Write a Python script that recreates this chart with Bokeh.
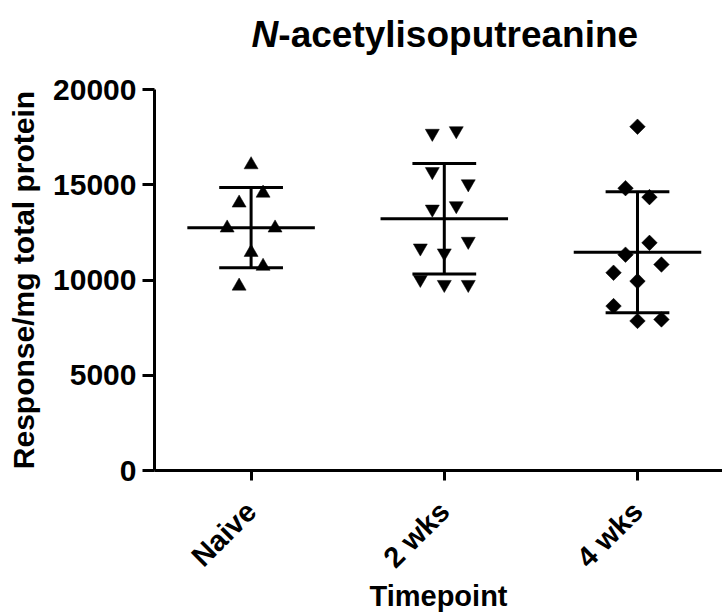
import math
import numpy as np
from bokeh.plotting import figure
from bokeh.layouts import column
from bokeh.models import Range1d, FixedTicker, ColumnDataSource
from bokeh.core.properties import value
from bokeh.embed import file_html
from bokeh.resources import INLINE

# ---- data ----
title_italic = "N"
title_rest = "-acetylisoputreanine"
categories = ["Naive", "2 wks", "4 wks"]
category_pos = [1, 2, 3]
y_ticks = [0, 5000, 10000, 15000, 20000]

naive_values = [16050, 14560, 14040, 12730, 12730, 11450, 10720, 9680]
naive_cols = [0, 1, -1, -2, 2, 0, 1, -1]

wk2_values = [17700, 17835, 15690, 15050, 13900, 13720, 12030, 11680, 11420, 10030, 9765, 9765]
wk2_cols = [-1, 1, -1, 2, 1, -1, 2, -2, 0, -2, 0, 2]

wk4_values = [18045, 14820, 14350, 11950, 11330, 10810, 10380, 9940, 8630, 7850, 7930]
wk4_cols = [0, -1, 1, 1, -1, 2, -2, 0, -2, 0, 2]

COL_STEP = 0.062   # horizontal spread of scatter columns (category units)
MEAN_HALF = 0.33
CAP_HALF = 0.165

FONT = "Liberation Sans"
TITLE_H = 60

x_range = Range1d(0.5, 3.44)

# ---- title strip (separate svg figure so the N can be italic) ----
t = figure(width=722, height=TITLE_H, output_backend="svg", toolbar_location=None,
           title=None, x_range=x_range, y_range=Range1d(TITLE_H, 0),
           x_axis_type=None, y_axis_type=None,
           min_border_left=154, min_border_right=0,
           min_border_top=0, min_border_bottom=0)
t.outline_line_color = None
t.xgrid.visible = False
t.ygrid.visible = False
t.background_fill_color = "white"
t.border_fill_color = "white"
t.text(x=[1.141], y=[34], text=[title_italic], text_font=value(FONT),
       text_font_style=value("bold italic"), text_font_size=value("37px"),
       text_align="right", text_baseline="alphabetic", text_color="black")
t.text(x=[1.141], y=[34], text=[title_rest], text_font=value(FONT),
       text_font_style=value("bold"), text_font_size=value("37px"),
       text_align="left", text_baseline="alphabetic", text_color="black")

# ---- main plot ----
p = figure(width=722, height=614 - TITLE_H, output_backend="svg", toolbar_location=None,
           x_range=x_range, y_range=Range1d(0, 20000),
           min_border_left=154, min_border_right=0, min_border_top=29,
           min_border_bottom=142)
p.outline_line_color = None
p.xgrid.visible = False
p.ygrid.visible = False
p.background_fill_color = "white"
p.border_fill_color = "white"

groups = [
    (naive_values, naive_cols, "triangle", 14, 0),
    (wk2_values, wk2_cols, "inverted_triangle", 14, 0),
    (wk4_values, wk4_cols, "square", 11, math.pi / 4),
]

for pos, (vals, cols, marker, size, ang) in zip(category_pos, groups):
    xs = [pos + c * COL_STEP for c in cols]
    src = ColumnDataSource(dict(x=xs, y=vals))
    p.scatter("x", "y", source=src, marker=marker, size=size, angle=ang,
              fill_color="black", line_color="black", line_width=0.5)
    arr = np.array(vals, dtype=float)
    m = arr.mean()
    sd = arr.std(ddof=1)
    p.segment(x0=[pos - MEAN_HALF, pos - CAP_HALF, pos - CAP_HALF, pos],
              y0=[m, m + sd, m - sd, m - sd],
              x1=[pos + MEAN_HALF, pos + CAP_HALF, pos + CAP_HALF, pos],
              y1=[m, m + sd, m - sd, m + sd],
              line_color="black", line_width=3, line_cap="butt")

for ax in (p.xaxis[0], p.yaxis[0]):
    ax.axis_line_width = 3
    ax.axis_line_color = "black"
    ax.major_tick_line_width = 3
    ax.major_tick_line_color = "black"
    ax.major_tick_in = 0
    ax.minor_tick_line_color = None
    ax.major_label_text_font = FONT
    ax.major_label_text_font_style = "bold"
    ax.major_label_text_font_size = "29px"
    ax.major_label_text_color = "black"
    ax.axis_label_text_font = FONT
    ax.axis_label_text_font_style = "bold"
    ax.axis_label_text_font_size = "29px"
    ax.axis_label_text_color = "black"

p.yaxis.ticker = FixedTicker(ticks=y_ticks)
p.yaxis.major_tick_out = 12
p.yaxis.major_label_standoff = 6
p.yaxis.major_label_text_font_size = "30px"
p.yaxis.axis_label = "Response/mg total protein"
p.yaxis.axis_label_text_font_size = "30px"
p.yaxis.axis_label_standoff = 10

p.xaxis.ticker = FixedTicker(ticks=category_pos)
p.xaxis.major_label_overrides = {pos: c for pos, c in zip(category_pos, categories)}
p.xaxis.major_tick_out = 10
p.xaxis.major_label_orientation = math.pi / 4
p.xaxis.major_label_standoff = 26
p.xaxis.axis_label = "Timepoint"
p.xaxis.axis_label_standoff = -8

layout = column(t, p, spacing=0)
open("out.html", "w").write(file_html(layout, INLINE))
